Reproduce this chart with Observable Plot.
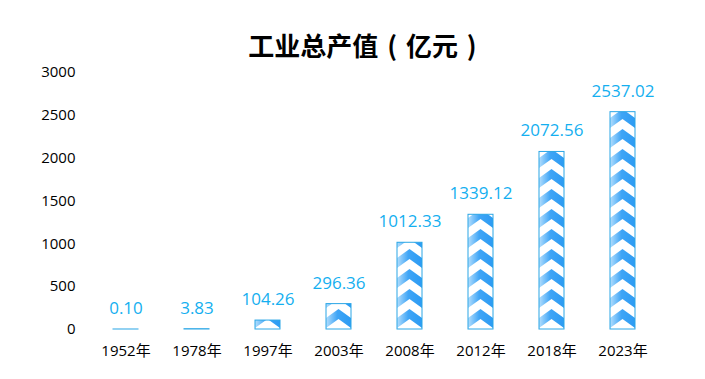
<!DOCTYPE html>
<html>
<head>
<meta charset="utf-8">
<script src="https://cdn.jsdelivr.net/npm/d3@7"></script>
<script src="https://cdn.jsdelivr.net/npm/@observablehq/plot@0.6"></script>
<style>
  html, body { margin: 0; padding: 0; background: #fff; }
  #wrap { position: relative; width: 705px; height: 379px; }
  #title { position: absolute; left: 10px; top: 31px; width: 705px; text-align: center; white-space: pre;
    font-family: "Noto Sans CJK SC", sans-serif; font-weight: bold; font-size: 26px; line-height: 28px; color: #000;
    word-spacing: 3px; }
</style>
</head>
<body>
<div id="wrap"><div id="title">工业总产值 ( 亿元 )</div></div>
<script>
const years = ["1952年", "1978年", "1997年", "2003年", "2008年", "2012年", "2018年", "2023年"];
const values = [0.10, 3.83, 104.26, 296.36, 1012.33, 1339.12, 2072.56, 2537.02];
const valueLabels = ["0.10", "3.83", "104.26", "296.36", "1012.33", "1339.12", "2072.56", "2537.02"];
const yTicks = [0, 500, 1000, 1500, 2000, 2500, 3000];

const data = years.map((y, i) => ({year: y, value: values[i], label: valueLabels[i]}));
const font = "'Open Sans', 'Noto Sans CJK SC', sans-serif";

const chart = Plot.plot({
  width: 705, height: 379,
  marginLeft: 87, marginRight: 44, marginTop: 72, marginBottom: 50,
  style: {fontFamily: font, background: "transparent", overflow: "visible"},
  x: {domain: years, paddingInner: 0.652, paddingOuter: 0.326, label: null},
  y: {domain: [0, 3000], label: null},
  marks: [
    Plot.axisX({tickSize: 0, tickPadding: 16, fontSize: 15, fill: "#000", label: null}),
    Plot.axisY({ticks: yTicks, tickSize: 0, tickPadding: 12, fontSize: 15, fill: "#000", label: null, tickFormat: d => String(d)}),
    Plot.barY(data, {x: "year", y: "value", fill: "url(#chev)", stroke: "#2aa6e6", strokeWidth: 1}),
    Plot.text(data, {x: "year", y: "value", text: "label", dy: -21, fill: "#14aff0", fontSize: 17})
  ]
});

// chevron pattern aligned to the bands
const xs = chart.scale("x");
const ys = chart.scale("y");
const bw = xs.bandwidth, step = xs.step;
const left0 = xs.apply(years[0]);
const base = ys.apply(0);
const ph = 20;
const defs = d3.select(chart).insert("defs", ":first-child");
const grad = defs.append("linearGradient").attr("id", "chevGrad").attr("x1", 0).attr("x2", 1).attr("y1", 0).attr("y2", 0);
grad.append("stop").attr("offset", 0).attr("stop-color", "#b3defd");
grad.append("stop").attr("offset", 0.45).attr("stop-color", "#3fa5f6");
grad.append("stop").attr("offset", 1).attr("stop-color", "#2c9bf3");
const pat = defs.append("pattern").attr("id", "chev").attr("patternUnits", "userSpaceOnUse")
  .attr("x", left0).attr("y", base).attr("width", step).attr("height", ph);
pat.append("rect").attr("width", bw).attr("height", ph).attr("fill", "#fff");
pat.append("polygon")
  .attr("points", `0,9 ${bw/2},0 ${bw},9 ${bw},19 ${bw/2},10 0,19`)
  .attr("fill", "url(#chevGrad)");

document.getElementById("wrap").appendChild(chart);
chart.style.position = "absolute";
chart.style.left = "0";
chart.style.top = "0";
</script>
</body>
</html>
